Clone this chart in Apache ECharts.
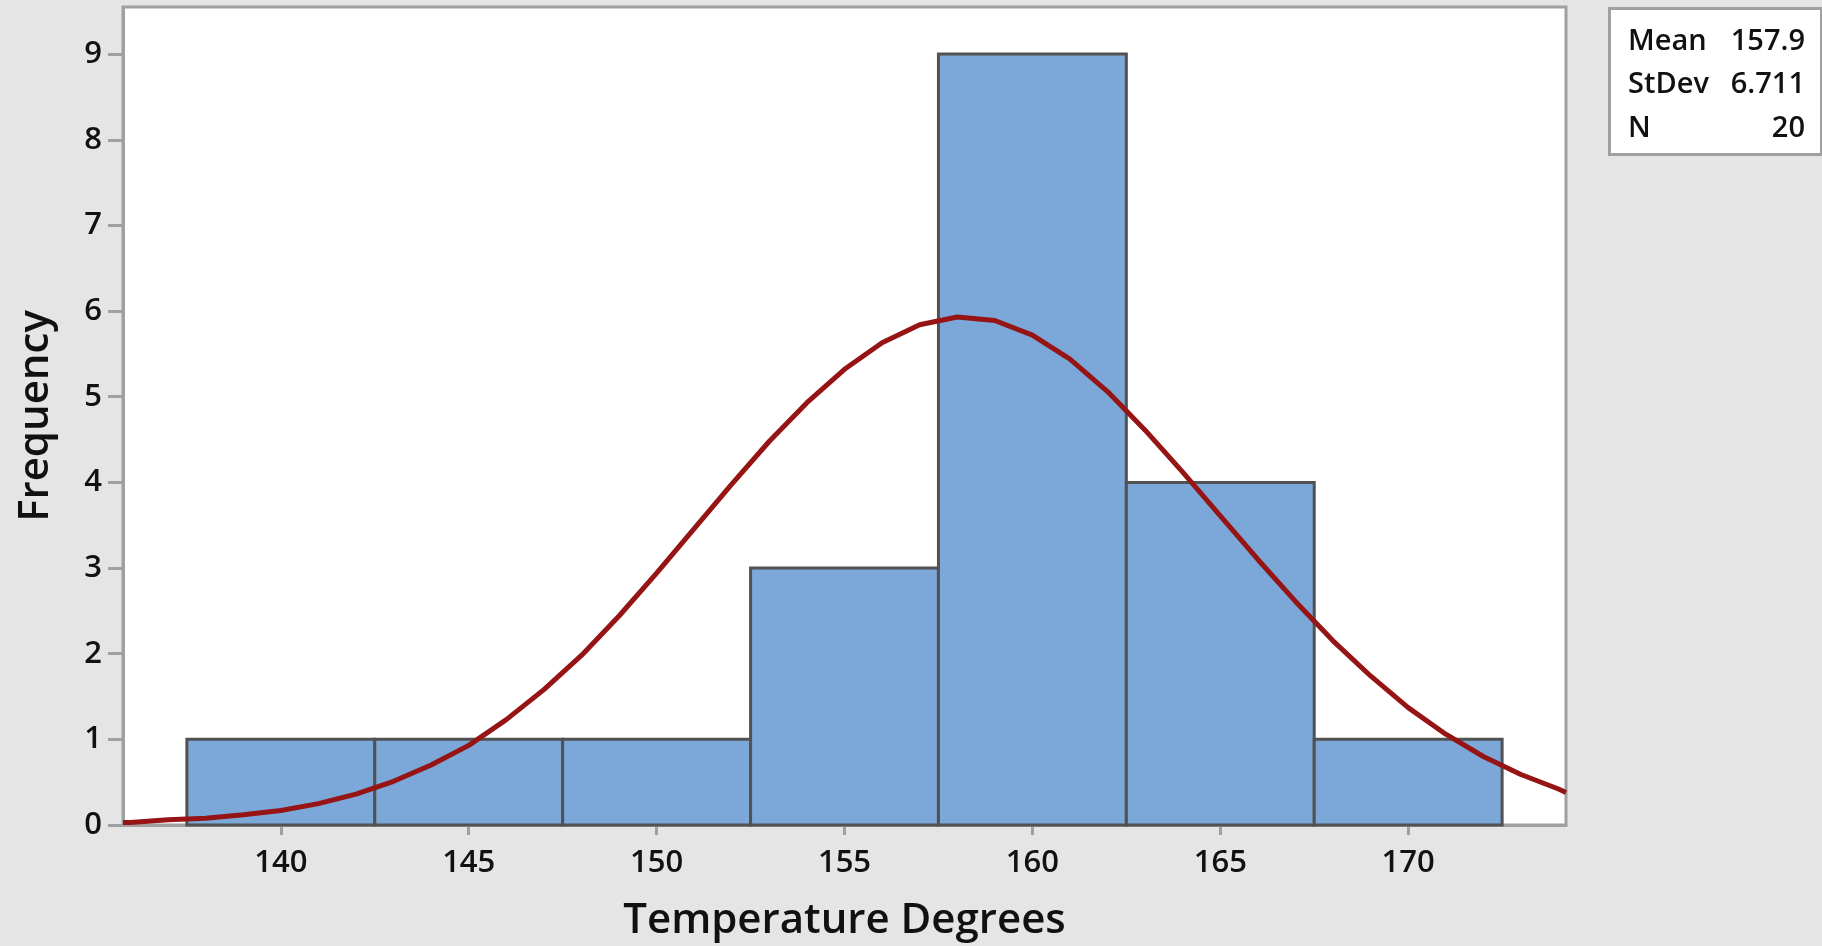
<!DOCTYPE html>
<html>
<head>
<meta charset="utf-8">
<script src="https://cdn.jsdelivr.net/npm/echarts@6/dist/echarts.min.js"></script>
<style>
html,body{margin:0;padding:0;background:#e5e5e5;}
#c{width:1822px;height:946px;}
</style>
</head>
<body>
<div id="c"></div>
<script>
// Histogram bins (Temperature Degrees)
const binStart = [137.5, 142.5, 147.5, 152.5, 157.5, 162.5, 167.5];
const binEnd   = [142.5, 147.5, 152.5, 157.5, 162.5, 167.5, 172.5];
const counts   = [1, 1, 1, 3, 9, 4, 1];

// Tick labels
const xTicks = [140, 145, 150, 155, 160, 165, 170];
const yTicks = [0, 1, 2, 3, 4, 5, 6, 7, 8, 9];

// Fitted normal curve
const curveX = [135.8, 136, 137, 138, 139, 140, 141, 142, 143, 144, 145, 146, 147, 148, 149, 150,
                151, 152, 153, 154, 155, 156, 157, 158, 159, 160, 161, 162, 163, 164, 165, 166,
                167, 168, 169, 170, 171, 172, 173, 174, 174.2];
const curveY = [0.03, 0.03, 0.06, 0.08, 0.12, 0.17, 0.25, 0.36, 0.51, 0.70, 0.93, 1.23, 1.58, 1.98, 2.44, 2.94,
                3.46, 3.98, 4.48, 4.93, 5.32, 5.63, 5.84, 5.93, 5.89, 5.72, 5.44, 5.06, 4.61, 4.12, 3.61, 3.10,
                2.61, 2.15, 1.74, 1.37, 1.06, 0.80, 0.59, 0.42, 0.38];

// Summary statistics
const statLabels = ['Mean', 'StDev', 'N'];
const statValues = ['157.9', '6.711', '20'];

const FONT = '"Open Sans", "Noto Sans", sans-serif';

const chart = echarts.init(document.getElementById('c'), null, {renderer: 'canvas'});

const statGraphics = [{
  type: 'rect', left: 1608, top: 7,
  shape: {width: 212, height: 146},
  style: {fill: '#ffffff', stroke: '#a0a0a0', lineWidth: 3}
}];
statLabels.forEach((l, i) => {
  statGraphics.push({
    type: 'text', left: 1628, top: 27 + i * 43.5,
    style: {text: l, font: '600 29px ' + FONT, fill: '#111'}
  });
  statGraphics.push({
    type: 'text', right: 17, top: 27 + i * 43.5,
    style: {text: statValues[i], font: '600 29px ' + FONT, fill: '#111', textAlign: 'right'}
  });
});

chart.setOption({
  backgroundColor: '#e5e5e5',
  animation: false,
  grid: {
    left: 123, top: 7, right: 256, bottom: 121,
    outerBoundsMode: 'none', containLabel: false,
    show: true, backgroundColor: '#ffffff', borderColor: '#a0a0a0', borderWidth: 3
  },
  xAxis: {
    type: 'value', min: 135.8, max: 174.2,
    splitLine: {show: false},
    axisLine: {show: true, lineStyle: {color: '#a0a0a0', width: 3}},
    axisTick: {show: true, length: 10, lineStyle: {color: '#a0a0a0', width: 3}, customValues: xTicks},
    axisLabel: {
      margin: 23, fontSize: 31, fontWeight: 600, color: '#111', fontFamily: FONT,
      customValues: xTicks
    },
    name: 'Temperature Degrees', nameLocation: 'middle', nameGap: 75,
    nameTextStyle: {fontSize: 42, color: '#111', fontFamily: FONT, fontWeight: 600}
  },
  yAxis: {
    type: 'value', min: 0, max: 9.55,
    splitLine: {show: false},
    axisLine: {show: true, lineStyle: {color: '#a0a0a0', width: 3}},
    axisTick: {show: true, length: 15, lineStyle: {color: '#a0a0a0', width: 3}, customValues: yTicks},
    axisLabel: {margin: 21, fontSize: 31, fontWeight: 600, color: '#111', fontFamily: FONT,
                customValues: yTicks},
    name: 'Frequency', nameLocation: 'middle', nameGap: 66,
    nameTextStyle: {fontSize: 42, color: '#111', fontFamily: FONT, fontWeight: 600}
  },
  graphic: statGraphics,
  series: [
    {
      type: 'custom',
      data: counts.map((c, i) => [binStart[i], binEnd[i], c]),
      renderItem: function (params, api) {
        const p0 = api.coord([api.value(0), api.value(2)]);
        const p1 = api.coord([api.value(1), 0]);
        return {
          type: 'rect',
          shape: {x: p0[0], y: p0[1], width: p1[0] - p0[0], height: p1[1] - p0[1]},
          style: {fill: '#7ba7d9', stroke: '#525252', lineWidth: 3}
        };
      },
      z: 2
    },
    {
      type: 'line',
      data: curveX.map((x, i) => [x, curveY[i]]),
      showSymbol: false,
      smooth: false,
      lineStyle: {color: '#961414', width: 5},
      z: 3
    }
  ]
});
</script>
</body>
</html>
